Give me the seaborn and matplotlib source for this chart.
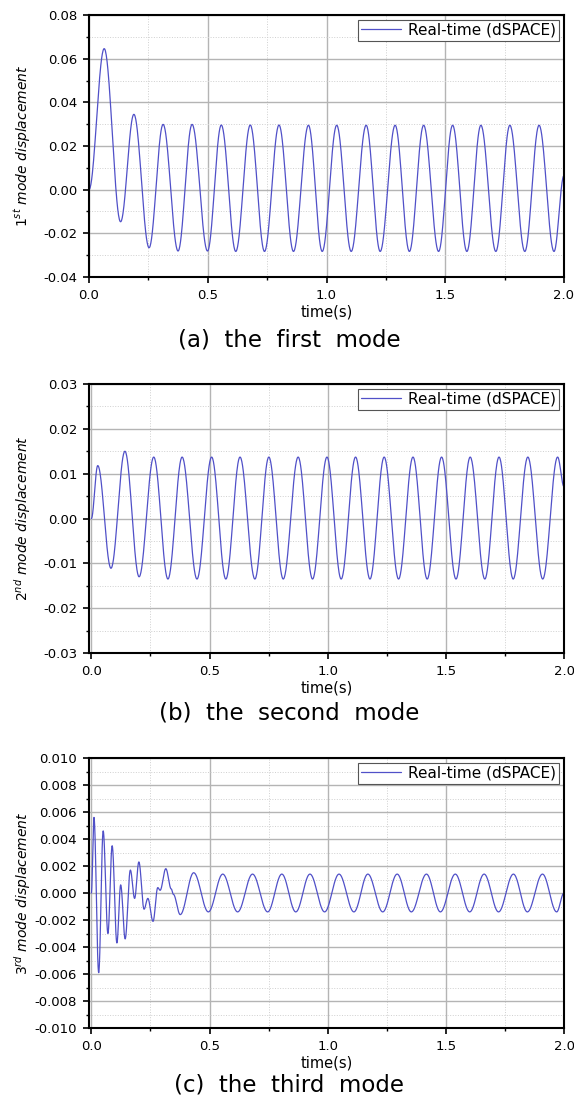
import numpy as np
import pandas as pd
import matplotlib
matplotlib.use("Agg")
import matplotlib.pyplot as plt
import seaborn as sns
from matplotlib.ticker import MultipleLocator, FormatStrFormatter

# ---- data: turning points (time [s], displacement) ----
t1 = [0.0, 0.064, 0.133, 0.189, 0.253, 0.312, 0.375, 0.434, 0.499, 0.557, 0.618,
      0.679, 0.739, 0.800, 0.861, 0.924, 0.982, 1.043, 1.104, 1.167, 1.226, 1.289,
      1.349, 1.409, 1.472, 1.531, 1.591, 1.650, 1.713, 1.772, 1.835, 1.895, 1.958, 2.0]
v1 = [0.0, 0.0646, -0.0147, 0.0345, -0.0266, 0.0299, -0.0281, 0.0299, -0.0281, 0.0296,
      -0.0283, 0.0296, -0.0283, 0.0296, -0.0283, 0.0295, -0.0283, 0.0295, -0.0283,
      0.0295, -0.0283, 0.0295, -0.0283, 0.0295, -0.0283, 0.0295, -0.0283, 0.0295,
      -0.0283, 0.0295, -0.0283, 0.0295, -0.0283, 0.0065]

t2 = [0.0, 0.027, 0.083, 0.142, 0.202, 0.264, 0.324, 0.384, 0.447, 0.509, 0.569,
      0.629, 0.692, 0.751, 0.812, 0.875, 0.936, 0.997, 1.057, 1.118, 1.179, 1.239,
      1.300, 1.361, 1.421, 1.482, 1.543, 1.603, 1.665, 1.725, 1.785, 1.847, 1.910,
      1.973, 2.0]
v2 = [0.0, 0.0118, -0.0111, 0.0150, -0.0130, 0.0137, -0.0135, 0.0137, -0.0135, 0.0137,
      -0.0135, 0.0137, -0.0135, 0.0137, -0.0135, 0.0137, -0.0135, 0.0137, -0.0135,
      0.0137, -0.0135, 0.0137, -0.0135, 0.0137, -0.0135, 0.0137, -0.0135, 0.0137,
      -0.0135, 0.0137, -0.0135, 0.0137, -0.0135, 0.0137, 0.0071]

t3 = [0.0, 0.011, 0.031, 0.050, 0.070, 0.088, 0.108, 0.124, 0.143, 0.165, 0.183,
      0.201, 0.223, 0.239, 0.261, 0.281, 0.291, 0.315, 0.338, 0.347, 0.376, 0.433,
      0.495, 0.556, 0.619, 0.682, 0.746, 0.806, 0.865, 0.925, 0.987, 1.048, 1.111,
      1.170, 1.233, 1.294, 1.354, 1.418, 1.477, 1.540, 1.601, 1.662, 1.723, 1.786,
      1.845, 1.909, 1.969, 2.0]
v3 = [0.0, 0.0056, -0.0059, 0.0046, -0.0030, 0.0035, -0.0037, 0.0006, -0.0034, 0.0017,
      -0.0004, 0.0023, -0.0012, -0.0004, -0.0021, 0.0004, 0.0002, 0.0018, 0.0003,
      -0.0001, -0.0016, 0.0015, -0.0014, 0.0014, -0.0014, 0.0014, -0.0014, 0.0014,
      -0.0014, 0.0014, -0.0014, 0.0014, -0.0014, 0.0014, -0.0014, 0.0014, -0.0014,
      0.0014, -0.0014, 0.0014, -0.0014, 0.0014, -0.0014, 0.0014, -0.0014, 0.0014,
      -0.0014, 0.0]

ylabels = [r"$\mathit{1^{st}}$ mode displacement",
           r"$\mathit{2^{nd}}$ mode displacement",
           r"$\mathit{3^{rd}}$ mode displacement"]
captions = ["(a)  the  first  mode", "(b)  the  second  mode", "(c)  the  third  mode"]
series_label = "Real-time (dSPACE)"
xlabel = "time(s)"


def trace(tk, vk, n=40):
    ts, vs = [], []
    for i in range(len(tk) - 1):
        s = np.linspace(0, 1, n, endpoint=False)
        ts.append(tk[i] + (tk[i + 1] - tk[i]) * s)
        vs.append(vk[i] + (vk[i + 1] - vk[i]) * (1 - np.cos(np.pi * s)) / 2)
    ts.append([tk[-1]])
    vs.append([vk[-1]])
    return pd.DataFrame({"time": np.concatenate(ts), "value": np.concatenate(vs)})


sns.set_theme(style="ticks")
plt.rcParams["font.family"] = ["DejaVu Sans"]
plt.rcParams["axes.unicode_minus"] = False
plt.rcParams["mathtext.fontset"] = "dejavusans"
plt.rcParams["text.color"] = "black"
plt.rcParams["axes.labelcolor"] = "black"
plt.rcParams["xtick.color"] = "black"
plt.rcParams["ytick.color"] = "black"
plt.rcParams["legend.labelcolor"] = "black"

LINE = "#5050C8"
W, H = 574, 1102
fig = plt.figure(figsize=(W / 100, H / 100), dpi=100)

panels = [
    dict(t=t1, v=v1, box=(89, 15, 564, 277), ylim=(-0.04, 0.08), major=0.02, fmt="%.2f",
         xlo=0.0, cap_y=340),
    dict(t=t2, v=v2, box=(89, 384, 564, 653), ylim=(-0.03, 0.03), major=0.01, fmt="%.2f",
         xlo=-0.01, cap_y=713),
    dict(t=t3, v=v3, box=(89, 758, 564, 1028), ylim=(-0.010, 0.010), major=0.002, fmt="%.3f",
         xlo=-0.01, cap_y=1085),
]

for i, p in enumerate(panels):
    l, t, r, b = p["box"]
    ax = fig.add_axes([l / W, 1 - b / H, (r - l) / W, (b - t) / H])
    df = trace(p["t"], p["v"])
    sns.lineplot(data=df, x="time", y="value", ax=ax, color=LINE, linewidth=0.9,
                 label=series_label, estimator=None, sort=False)
    ax.set_xlim(p["xlo"], 2.0)
    ax.set_ylim(*p["ylim"])
    ax.xaxis.set_major_locator(MultipleLocator(0.5))
    ax.xaxis.set_minor_locator(MultipleLocator(0.25))
    ax.xaxis.set_major_formatter(FormatStrFormatter("%.1f"))
    ax.yaxis.set_major_locator(MultipleLocator(p["major"]))
    ax.yaxis.set_minor_locator(MultipleLocator(p["major"] / 2))
    ax.yaxis.set_major_formatter(FormatStrFormatter(p["fmt"]))
    ax.grid(which="major", color="#b4b4b4", linewidth=1.0, linestyle="-")
    ax.grid(which="minor", color="#cfcfcf", linewidth=0.7, linestyle=":")
    ax.set_axisbelow(True)
    ax.tick_params(which="major", direction="out", length=4.5, width=1.2, pad=4,
                   labelsize=9.5, colors="black")
    ax.tick_params(which="minor", direction="out", length=2.5, width=1.0, colors="black")
    ax.tick_params(top=False, right=False, which="both")
    for side in ["left", "bottom", "top", "right"]:
        ax.spines[side].set_visible(True)
        ax.spines[side].set_color("black")
        ax.spines[side].set_linewidth(1.5)
    ax.set_xlabel(xlabel, fontsize=10.5, labelpad=2, color="black")
    ax.set_ylabel(ylabels[i], fontsize=10, fontstyle="italic", color="black")
    ax.yaxis.set_label_coords(-0.118, 0.5)
    leg = ax.legend(loc="upper right", frameon=True, fancybox=False, fontsize=11,
                    handlelength=2.6, handletextpad=0.5, borderpad=0.2,
                    borderaxespad=0.3, framealpha=1.0)
    leg.get_frame().set_edgecolor("#555555")
    leg.get_frame().set_linewidth(0.8)
    fig.text(289 / W, 1 - p["cap_y"] / H, captions[i], ha="center", va="center",
             fontsize=16.5, color="black")

fig.savefig("out.png", dpi=100, facecolor="white")
